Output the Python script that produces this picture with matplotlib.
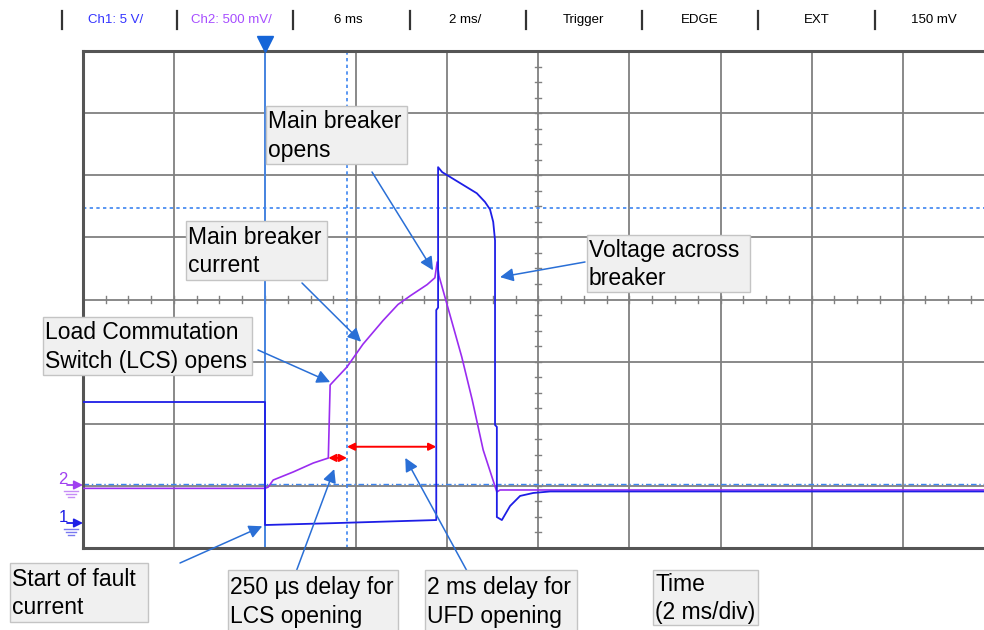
import numpy as np
import matplotlib.pyplot as plt
from matplotlib.patches import Rectangle
from matplotlib.lines import Line2D

plt.rcParams['font.family'] = ['Liberation Sans', 'DejaVu Sans']

W, H = 984, 630

# scope colours
CH1 = '#1e1ee6'
CH2 = '#9a2cf0'
GRID = '#808080'
FRAME = '#555555'
CURSOR = '#3d85f0'
ARROW = '#2a6fd6'
BOX_FC = '#f0f0f0'
BOX_EC = '#c4c4c4'

# scope settings
CH1_SCALE = 5.0      # V/div
CH2_SCALE = 0.5      # V/div
CH1_GROUND = -3.63   # div
CH2_GROUND = -3.0    # div

# Ch1: voltage across breaker (V), time in ms from trigger
ch1_t = [-4.0, 0.0, 0.0, 1.5, 3.76, 3.76, 3.80, 3.80, 3.89, 4.65, 4.83, 4.94,
         5.01, 5.05, 5.05, 5.09, 5.09, 5.20, 5.38, 5.60, 5.89, 6.26, 16.0]
ch1_v = [9.9, 9.9, 0.0, 0.15, 0.40, 17.3, 17.5, 28.8, 28.4, 26.7, 26.0, 25.4,
         24.4, 22.9, 8.05, 7.9, 0.64, 0.40, 1.53, 2.34, 2.58, 2.70, 2.70]

# Ch2: main breaker current (V on probe)
ch2_t = [-4.0, 0.0, 0.07, 0.18, 0.62, 1.06, 1.39, 1.43, 1.47, 1.80, 2.15, 2.59,
         2.92, 3.19, 3.56, 3.73, 3.78, 3.82, 4.32, 4.55, 4.79, 5.09, 5.16, 16.0]
ch2_v = [-0.02, -0.02, -0.01, 0.047, 0.112, 0.184, 0.224, 0.812, 0.828, 0.957,
         1.140, 1.330, 1.460, 1.530, 1.620, 1.675, 1.802, 1.690, 1.037,
         0.691, 0.289, -0.049, -0.033, -0.033]

# cursors / trigger level
cursor_t = 1.80
cursor_div = 1.473
trig_level_div = -2.97

# delay markers (ms)
lcs_delay = (1.39, 1.80)
ufd_delay = (1.80, 3.76)

header_labels = ['Ch1: 5 V/', 'Ch2: 500 mV/', '6 ms', '2 ms/', 'Trigger', 'EDGE', 'EXT', '150 mV']
header_colors = ['#3333ff', '#a64dff', 'black', 'black', 'black', 'black', 'black', 'black']


def fx(x):
    return x / W


def fy(y):
    return 1 - y / H


fig = plt.figure(figsize=(W / 100, H / 100), dpi=100)
fig.patch.set_facecolor('white')
ax = fig.add_axes([fx(82.8), fy(548), (993.8 - 82.8) / W, (548 - 51) / H])
ax.set_xlim(-4, 16)
ax.set_ylim(-4, 4)
ax.set_xticks(np.arange(-4, 17, 2))
ax.set_yticks(np.arange(-4, 5, 1))
ax.grid(True, color=GRID, lw=1.3, zorder=0)
ax.tick_params(length=0, labelbottom=False, labelleft=False)
for s in ax.spines.values():
    s.set_color(FRAME)
    s.set_linewidth(2.2)

# minor ticks on the centre axes
for x in np.arange(-4, 16.01, 0.5):
    ax.plot([x, x], [-0.05, 0.05], color=GRID, lw=1.0, zorder=1)
for y in np.arange(-4, 4.01, 0.25):
    ax.plot([5.93, 6.07], [y, y], color=GRID, lw=1.0, zorder=1)

# trigger line, cursors, trigger level
ax.axvline(0, color=CURSOR, lw=1.2, zorder=2)
ax.axvline(cursor_t, color=CURSOR, lw=1.2, ls=(0, (2, 2)), zorder=2)
ax.axhline(cursor_div, color=CURSOR, lw=1.2, ls=(0, (2, 2)), zorder=2)
ax.axhline(trig_level_div, color=CURSOR, lw=1.0, ls=(0, (4, 2, 1, 2)), zorder=2)
ax.plot([0], [4.12], marker='v', ms=11, color='#1565d8', clip_on=False, zorder=5)

# traces
ch1_div = np.array(ch1_v) / CH1_SCALE + CH1_GROUND
ch2_div = np.array(ch2_v) / CH2_SCALE + CH2_GROUND
ax.plot(ch2_t, ch2_div, color=CH2, lw=1.2, zorder=3)
ax.plot(ch1_t, ch1_div, color=CH1, lw=1.3, zorder=4)

# red delay arrows
for (t0, t1), d in [(lcs_delay, -2.55), (ufd_delay, -2.37)]:
    ax.annotate('', xy=(t1, d), xytext=(t0, d),
                arrowprops=dict(arrowstyle='<|-|>', color='red', lw=1.4,
                                mutation_scale=11, shrinkA=0, shrinkB=0), zorder=6)

# channel ground markers
for label, col, ypx in [('2', '#a040f0', 485), ('1', '#1e1ee6', 523)]:
    fig.text(fx(63), fy(ypx - 5), label, color=col, fontsize=12, ha='center', va='center')
    ax.annotate('', xy=(fx(83), fy(ypx)), xytext=(fx(67), fy(ypx)),
                xycoords='figure fraction', textcoords='figure fraction',
                arrowprops=dict(arrowstyle='-|>', color=col, lw=1.3,
                                mutation_scale=13, shrinkA=0, shrinkB=0),
                annotation_clip=False)
    for k, half in enumerate([7, 5, 3]):
        fig.add_artist(Line2D([fx(71 - half), fx(71 + half)], [fy(ypx + 6 + 3 * k)] * 2,
                              color=col, lw=1.0, alpha=0.6))

# header bar
sep_x = [62, 177, 293, 410, 526, 642, 758, 875]
label_x = [116, 231, 348, 465, 583, 700, 817, 934]
for x in sep_x:
    fig.add_artist(Line2D([fx(x), fx(x)], [fy(11), fy(29)], color='#333333', lw=1.6))
for x, lab, col in zip(label_x, header_labels, header_colors):
    fig.text(fx(x), fy(20), lab, color=col, fontsize=9.5, ha='center', va='center')

# annotation boxes: text, box (x0, y0, x1, y1) px, arrow tail px, arrow tip (ms, div)
notes = [
    ('Main breaker\nopens', (266, 106, 407, 164), (372, 172), (3.69, 0.47)),
    ('Main breaker\ncurrent', (186, 221, 327, 280), (302, 283), (2.11, -0.68)),
    ('Voltage across\nbreaker', (587, 235, 750, 292), (585, 262), (5.16, 0.36)),
    ('Load Commutation\nSwitch (LCS) opens', (43, 317, 252, 375), (258, 350), (1.43, -1.33)),
    ('Start of fault\ncurrent', (10, 563, 148, 622), (180, 563), (-0.06, -3.65)),
    ('250 µs delay for\nLCS opening', (228, 570, 398, 632), (293, 580), (1.52, -2.73)),
    ('2 ms delay for\nUFD opening', (425, 570, 577, 632), (467, 571), (3.08, -2.55)),
    ('Time\n(2 ms/div)', (653, 570, 758, 625), None, None),
]
for text, (x0, y0, x1, y1), tail, tip in notes:
    fig.add_artist(Rectangle((fx(x0), fy(y1)), (x1 - x0) / W, (y1 - y0) / H,
                             transform=fig.transFigure, fc=BOX_FC, ec=BOX_EC,
                             lw=1.0, zorder=5))
    fig.text(fx(x0 + 2), fy((y0 + y1) / 2 + 1), text, fontsize=16.5, ha='left',
             va='center', linespacing=1.28, color='black', zorder=6)
    if tail is not None:
        ax.annotate('', xy=tip, xycoords='data', xytext=(fx(tail[0]), fy(tail[1])),
                    textcoords='figure fraction',
                    arrowprops=dict(arrowstyle='-|>', color=ARROW, lw=1.1,
                                    mutation_scale=20, shrinkA=0, shrinkB=0),
                    annotation_clip=False, zorder=7)

fig.savefig('out.png', dpi=100)
